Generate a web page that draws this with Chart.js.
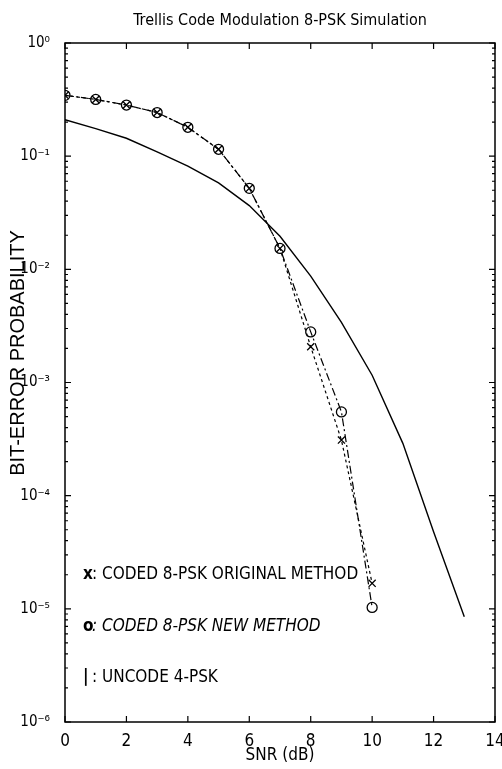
<!DOCTYPE html>
<html>
<head>
<meta charset="utf-8">
<script src="https://cdn.jsdelivr.net/npm/chart.js@4/dist/chart.umd.min.js"></script>
<style>
  html, body { margin: 0; padding: 0; background: #fff; }
  #wrap { width: 502px; height: 769px; }
</style>
</head>
<body>
<div id="wrap"><canvas id="ber"></canvas></div>
<script>
var snrCoded = [0, 1, 2, 3, 4, 5, 6, 7, 8, 9, 10];
var originalMethod = [0.345, 0.317, 0.283, 0.243, 0.18, 0.115, 0.052, 0.0153, 0.00207, 0.00031, 0.0000168];
var newMethod = [0.345, 0.317, 0.283, 0.243, 0.18, 0.115, 0.052, 0.0153, 0.0028, 0.00055, 0.0000103];

var snrUncoded = [0, 1, 2, 3, 4, 5, 6, 7, 8, 9, 10, 11, 12, 13];
var uncoded4psk = [0.21, 0.175, 0.144, 0.109, 0.0815, 0.058, 0.0366, 0.0196, 0.0087, 0.0034, 0.00116, 0.00029, 0.000048, 0.0000085];

var xTicks = [0, 2, 4, 6, 8, 10, 12, 14];
var yDecades = [1, 0.1, 0.01, 0.001, 0.0001, 0.00001, 0.000001];
var yTickLabels = ['10\u2070', '10\u207B\u00B9', '10\u207B\u00B2', '10\u207B\u00B3', '10\u207B\u2074', '10\u207B\u2075', '10\u207B\u2076'];

var legendLines = [
  { mark: 'x', text: 'CODED 8-PSK ORIGINAL METHOD', italic: false },
  { mark: 'o', text: 'CODED 8-PSK NEW METHOD', italic: true },
  { mark: '|', text: 'UNCODE 4-PSK', italic: false }
];

var narrow = "'DejaVu Sans Condensed', sans-serif";

function pts(xs, ys) {
  return xs.map(function (x, i) { return { x: x, y: ys[i] }; });
}

// inside ticks on all four sides, plus the text legend and y title
var matlabFrame = {
  id: 'matlabFrame',
  afterDraw: function (chart) {
    var ctx = chart.ctx, a = chart.chartArea;
    var xs = chart.scales.x, ys = chart.scales.y;
    ctx.save();
    ctx.strokeStyle = '#000';
    ctx.lineWidth = 1.5;
    ctx.strokeRect(a.left, a.top, a.right - a.left, a.bottom - a.top);
    ctx.lineWidth = 1.2;
    ctx.beginPath();
    xTicks.forEach(function (v) {
      var px = xs.getPixelForValue(v);
      ctx.moveTo(px, a.bottom); ctx.lineTo(px, a.bottom - 6);
      ctx.moveTo(px, a.top); ctx.lineTo(px, a.top + 6);
    });
    yDecades.forEach(function (d) {
      for (var m = 1; m <= 9; m++) {
        var v = d * m;
        if (v > 1) continue;
        var py = ys.getPixelForValue(v);
        var len = m === 1 ? 6 : 3;
        ctx.moveTo(a.left, py); ctx.lineTo(a.left + len, py);
        ctx.moveTo(a.right, py); ctx.lineTo(a.right - len, py);
      }
    });
    ctx.stroke();

    // y axis title
    ctx.fillStyle = '#000';
    ctx.font = "20px 'Liberation Sans', sans-serif";
    ctx.textAlign = 'center';
    ctx.textBaseline = 'middle';
    ctx.translate(18, 353);
    ctx.rotate(-Math.PI / 2);
    ctx.fillText('BIT-ERROR PROBABILITY', 0, 0);
    ctx.restore();

    ctx.save();
    ctx.fillStyle = '#000';
    ctx.textBaseline = 'middle';
    ctx.textAlign = 'left';
    legendLines.forEach(function (l, i) {
      var y = 575 + i * 51.5;
      ctx.font = 'bold 17px ' + narrow;
      ctx.fillText(l.mark, 83, y);
      ctx.font = (l.italic ? 'italic ' : '') + '17px ' + narrow;
      ctx.fillText(': ' + l.text, 92, y);
    });
    ctx.restore();
  }
};

new Chart(document.getElementById('ber'), {
  type: 'scatter',
  data: {
    datasets: [
      {
        label: 'CODED 8-PSK ORIGINAL METHOD',
        data: pts(snrCoded, originalMethod),
        showLine: true,
        borderColor: '#000',
        borderWidth: 1.2,
        borderDash: [3, 3],
        pointStyle: 'crossRot',
        pointRadius: 5,
        pointBorderWidth: 1.3,
        pointBorderColor: '#000'
      },
      {
        label: 'CODED 8-PSK NEW METHOD',
        data: pts(snrCoded, newMethod),
        showLine: true,
        borderColor: '#000',
        borderWidth: 1.2,
        borderDash: [8, 3, 2, 3],
        pointStyle: 'circle',
        pointRadius: 5,
        pointBorderWidth: 1.3,
        pointBorderColor: '#000',
        pointBackgroundColor: 'rgba(0,0,0,0)'
      },
      {
        label: 'UNCODE 4-PSK',
        data: pts(snrUncoded, uncoded4psk),
        showLine: true,
        borderColor: '#000',
        borderWidth: 1.4,
        pointRadius: 0
      }
    ]
  },
  options: {
    responsive: true,
    maintainAspectRatio: false,
    animation: false,
    layout: { padding: 0 },
    plugins: {
      legend: { display: false },
      tooltip: { enabled: false },
      title: {
        display: true,
        fullSize: false,
        text: 'Trellis Code Modulation 8-PSK Simulation',
        color: '#000',
        font: { family: narrow, size: 16, weight: 'normal' },
        padding: { top: 11, bottom: 12.8 }
      }
    },
    scales: {
      x: {
        type: 'linear',
        min: 0,
        max: 14,
        grid: { display: false },
        border: { display: false },
        afterBuildTicks: function (s) { s.ticks = xTicks.map(function (v) { return { value: v }; }); },
        afterFit: function (s) { s.height = 47; s.paddingLeft = 0; s.paddingRight = 7; },
        ticks: {
          color: '#000',
          padding: 1,
          maxRotation: 0,
          font: { family: narrow, size: 17 }
        },
        title: {
          display: true,
          text: 'SNR (dB)',
          color: '#000',
          padding: { top: 0, bottom: 3 },
          font: { family: narrow, size: 17 }
        }
      },
      y: {
        type: 'logarithmic',
        min: 0.000001,
        max: 1,
        grid: { display: false },
        border: { display: false },
        afterBuildTicks: function (s) { s.ticks = yDecades.map(function (v) { return { value: v }; }); },
        afterFit: function (s) { s.width = 65; },
        ticks: {
          color: '#000',
          padding: 7,
          autoSkip: false,
          font: { family: narrow, size: 15 },
          callback: function (v) {
            var i = yDecades.indexOf(v);
            return i >= 0 ? yTickLabels[i] : '';
          }
        }
      }
    }
  },
  plugins: [matlabFrame]
});
</script>
</body>
</html>
